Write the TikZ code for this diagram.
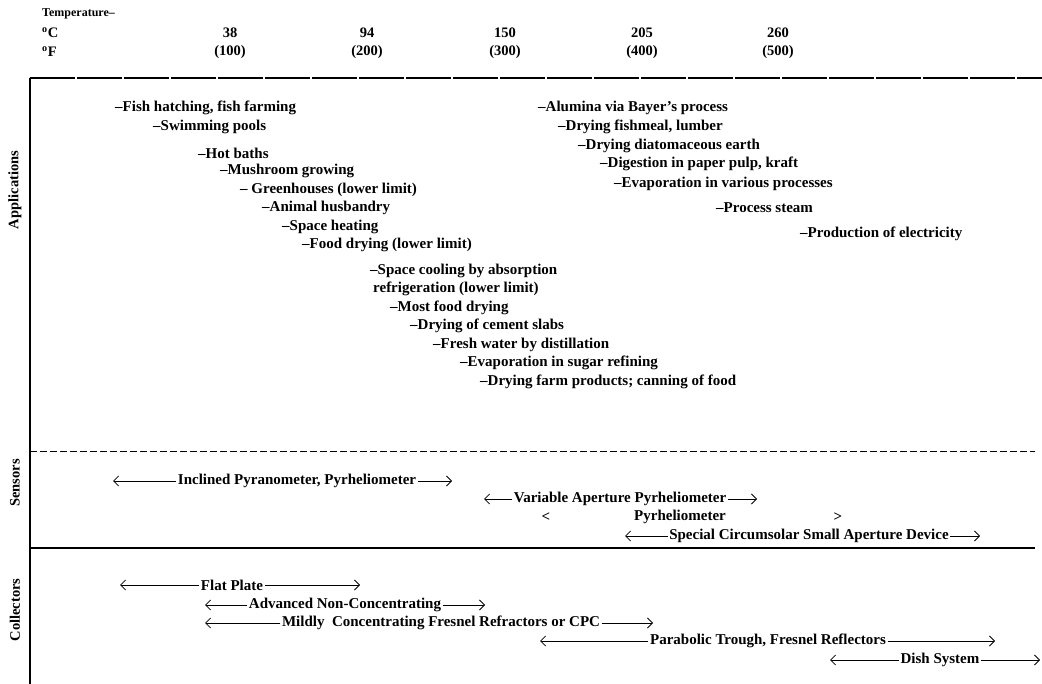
\documentclass[tikz,border=0pt]{standalone}
\usepackage{fontspec}
\setmainfont{Liberation Serif}
\usetikzlibrary{arrows.meta}
\tikzset{
  hdr/.style={font=\bfseries\fontsize{14.5}{16}\selectfont, inner sep=0pt, anchor=west},
  lbl/.style={font=\bfseries\fontsize{15}{17}\selectfont, inner sep=0pt, anchor=west},
  rnglbl/.style={font=\bfseries\fontsize{15}{17}\selectfont, inner sep=1.5pt},
  rng/.style={line width=0.8pt, -{Straight Barb[length=5pt,width=10pt]}},
  side/.style={font=\bfseries\fontsize{14.5}{16}\selectfont, rotate=90, inner sep=0pt},
}

\begin{document}
\begin{tikzpicture}[x=1pt,y=-1pt]
\useasboundingbox (0,0) rectangle (1042,684);
		% temperature scale
		\node[hdr,font=\bfseries\fontsize{12}{14}\selectfont] (temp) at (42,14) {Temperature--};
		\node[hdr] (degc) at (42,33) {\textsuperscript{o}C};
		\node[hdr] (degf) at (42,52) {\textsuperscript{o}F};
		\foreach \c/\f/\x [count=\i] in {38/100/230,94/200/367,150/300/505,205/400/642,260/500/778}
		{\node[hdr,anchor=center] (c\i) at (\x,33) {\c};
		\node[hdr,anchor=center] (f\i) at (\x,52) {(\f)};}

		% frame
		\coordinate (TL) at (30,78);
		\coordinate (TR) at (1042,78);
		\coordinate (BL) at (30,684);
		\coordinate (ML) at (30,452);
		\coordinate (MR) at (1035,452);
		\coordinate (CL) at (30,548);
		\coordinate (CR) at (1035,548);
		\draw[line width=1.6pt,dash pattern=on 45pt off 2pt] (TL) -- (TR);
		\draw[line width=1.3pt] (TL) -- (BL);
		\draw[line width=1pt,dash pattern=on 7pt off 3pt] (ML) -- (MR);
		\draw[line width=1.4pt] (CL) -- (CR);

		\node[side] (app) at (15,190) {Applications};
		\node[side] (sen) at (15,483) {Sensors};
		\node[side] (col) at (15,610) {Collectors};

		% applications
		\foreach \x/\y/\t [count=\i] in {115/108/{--Fish hatching, fish farming},
			153/127/{--Swimming pools},198/153/{--Hot baths},220/171/{--Mushroom growing},
			240/190/{-- Greenhouses (lower limit)},262/208/{--Animal husbandry},
			282/227/{--Space heating},302/245/{--Food drying (lower limit)},
			370/271/{--Space cooling by absorption},373/289/{refrigeration (lower limit)},
			390/308/{--Most food drying},410/326/{--Drying of cement slabs},
			433/345/{--Fresh water by distillation},460/363/{--Evaporation in sugar refining},
			480/382/{--Drying farm products; canning of food},
			538/108/{--Alumina via Bayer's process},558/127/{--Drying fishmeal, lumber},
			578/146/{--Drying diatomaceous earth},600/164/{--Digestion in paper pulp, kraft},
			614/184/{--Evaporation in various processes},716/208/{--Process steam},
			800/234/{--Production of electricity}}
		\node[lbl] (a\i) at (\x,\y) {\t};

		% sensors and collectors
		\foreach \n/\l/\c/\r/\y/\t in {incl/113/297/452/481/{Inclined Pyranometer, Pyrheliometer},
			vap/484/620/757/499/{Variable Aperture Pyrheliometer},
			scs/625/809/980/536/{Special Circumsolar Small Aperture Device},
			flat/120/232/360/585/{Flat Plate},
			adv/205/345/485/605/{Advanced Non-Concentrating},
			mild/205/441/653/623/{Mildly\ \ Concentrating Fresnel Refractors or CPC},
			para/540/768/995/641/{Parabolic Trough, Fresnel Reflectors},
			dish/830/940/1040/660/{Dish System}}
		{\node[rnglbl] (\n) at (\c,\y) {\t};
		\coordinate (\n L) at (\l,\y);
		\coordinate (\n R) at (\r,\y);
		\draw[rng] (\n.west) -- (\n L);
		\draw[rng] (\n.east) -- (\n R);}

		\node[rnglbl] (pyrL) at (546,517) {<};
		\node[rnglbl] (pyr) at (680,517) {Pyrheliometer};
		\node[rnglbl] (pyrR) at (838,517) {>};
\end{tikzpicture}
\end{document}
